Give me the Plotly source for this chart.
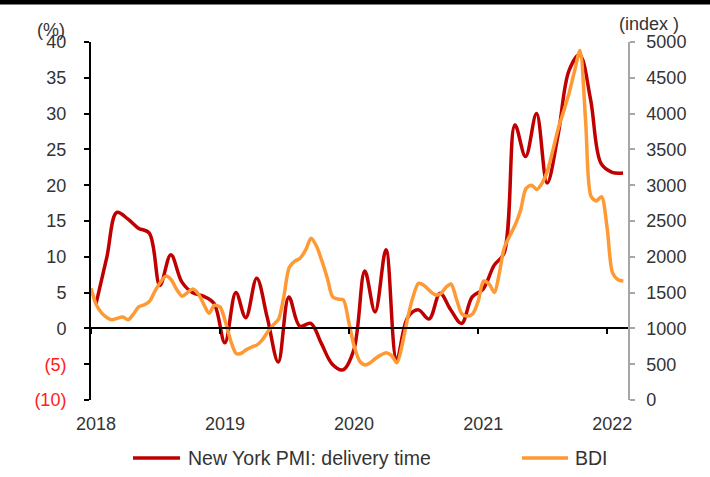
import plotly.graph_objects as go
import pandas as pd

# New York PMI: delivery time (%), monthly (mid-month), Jan 2018 - Feb 2022
pmi_dates = pd.date_range("2018-01-01", periods=50, freq="MS") + pd.Timedelta(days=14)
pmi_values = [
    3.4, 10.0, 16.2, 15.3, 14.0, 13.3, 6.0, 10.3, 6.5, 5.0, 4.5, 3.5,
    -2.0, 5.0, 1.5, 7.0, 1.5, -4.7, 4.4, 0.3, 0.7, -2.1, -5.0, -5.8,
    -3.0, 8.0, 2.3, 11.0, -4.4, 1.5, 2.6, 1.3, 4.9, 2.6, 0.7, 4.4,
    5.5, 8.8, 10.5, 28.4, 24.0, 30.0, 20.3, 27.0, 36.0, 38.2, 32.0, 23.0,
    21.8, 21.7,
]

# Baltic Dry Index (index), twice a month (1st and 16th), Jan 2018 - Feb 2022
month_starts = pd.date_range("2018-01-01", periods=50, freq="MS")
bdi_dates = []
for d in month_starts:
    bdi_dates.append(d)
    bdi_dates.append(d + pd.Timedelta(days=15))
bdi_values = [
    1560, 1330, 1210, 1150, 1120, 1140, 1160, 1120, 1200, 1300,
    1330, 1380, 1520, 1640, 1730, 1680, 1540, 1450, 1500, 1550,
    1480, 1340, 1210, 1320, 1300, 1100, 820, 650, 650, 700,
    740, 770, 840, 950, 1050, 1130, 1450, 1850, 1940, 1980,
    2100, 2260, 2150, 1950, 1700, 1440, 1410, 1400, 1080, 750,
    540, 490, 520, 580, 630, 660, 620, 520, 800, 1160,
    1450, 1630, 1600, 1530, 1470, 1480, 1570, 1620, 1400, 1200,
    1170, 1200, 1380, 1660, 1620, 1500, 1750, 2130, 2300, 2450,
    2650, 2950, 3000, 2940, 3030, 3200, 3500, 3800, 4050, 4300,
    4600, 4880, 3900, 2850, 2780, 2840, 2400, 1780, 1680, 1660,
]

left_ticks = [-10, -5, 0, 5, 10, 15, 20, 25, 30, 35, 40]
left_tick_text = ['<span style="color:#FF2020">(10)</span>',
                  '<span style="color:#FF2020">(5)</span>',
                  "0", "5", "10", "15", "20", "25", "30", "35", "40"]
right_ticks = [0, 500, 1000, 1500, 2000, 2500, 3000, 3500, 4000, 4500, 5000]
year_ticks = ["2018-01-01", "2019-01-01", "2020-01-01", "2021-01-01", "2022-01-01"]
year_labels = ["2018", "2019", "2020", "2021", "2022"]

RED = "#C00000"
ORANGE = "#FF9933"
FONT = "Liberation Sans, Arial, sans-serif"
TEXT = "#333333"
FS = 18

fig = go.Figure()
fig.add_trace(go.Scatter(
    x=pmi_dates, y=pmi_values, name="New York PMI: delivery time",
    mode="lines", line=dict(color=RED, width=3.5, shape="spline", smoothing=1.0),
    xaxis="x", yaxis="y",
))
fig.add_trace(go.Scatter(
    x=bdi_dates, y=bdi_values, name="BDI",
    mode="lines", line=dict(color=ORANGE, width=3.5, shape="spline", smoothing=0.8),
    xaxis="x", yaxis="y2",
))

x_range = ["2018-01-01", "2022-03-01"]

fig.update_layout(
    width=710, height=477,
    margin=dict(l=91, r=82, t=42, b=77),
    paper_bgcolor="white", plot_bgcolor="white",
    font=dict(family=FONT, size=FS, color=TEXT),
    showlegend=False,
    xaxis=dict(
        range=x_range, tickvals=year_ticks, ticktext=year_labels,
        showgrid=False, zeroline=False, showline=False, ticks="",
        ticklabelstandoff=11, ticklabelshift=5,
    ),
    # axis drawn along the zero line, carrying the year tick marks
    xaxis3=dict(
        range=x_range, overlaying="x", anchor="free", position=0.2,
        tickvals=year_ticks, showticklabels=False,
        showgrid=False, zeroline=False, showline=True, linecolor="black",
        linewidth=2, ticks="outside", ticklen=5, tickwidth=2, tickcolor="black",
    ),
    yaxis=dict(
        range=[-10, 40], tickvals=left_ticks, ticktext=left_tick_text,
        showgrid=False, zeroline=False, showline=True, linecolor="black",
        linewidth=2, ticks="outside", ticklen=5, tickwidth=2, tickcolor="black",
        ticklabelstandoff=14,
    ),
    yaxis2=dict(
        range=[0, 5000], tickvals=right_ticks, overlaying="y", side="right",
        showgrid=False, zeroline=False, showline=True, linecolor="#A6A6A6",
        linewidth=1.5, ticks="outside", ticklen=5, tickwidth=1.5, tickcolor="#A6A6A6",
        ticklabelstandoff=8,
    ),
)

# invisible trace to attach the zero-line axis
fig.add_trace(go.Scatter(x=[x_range[0]], y=[0], xaxis="x3", yaxis="y",
                         mode="lines", showlegend=False, hoverinfo="skip",
                         line=dict(width=0)))

fig.add_annotation(text="(%)", xref="paper", yref="paper", x=-0.0745, y=1.0,
                   xanchor="center", yanchor="middle", showarrow=False,
                   font=dict(size=FS, color=TEXT), yshift=12)
fig.add_annotation(text="(index )", xref="paper", yref="paper", x=1.04, y=1.0,
                   xanchor="center", yanchor="middle", showarrow=False,
                   font=dict(size=FS, color=TEXT), yshift=18)

# legend drawn below the plot
legend_items = [("New York PMI: delivery time", RED, 0.0782, 0.1657, 0.1769),
                ("BDI", ORANGE, 0.8026, 0.8883, 0.8976)]
for label, color, lx0, lx1, tx in legend_items:
    fig.add_shape(type="line", xref="paper", yref="paper", x0=lx0, x1=lx1,
                  y0=-0.162, y1=-0.162, line=dict(color=color, width=3.5))
    fig.add_annotation(text=label, xref="paper", yref="paper", x=tx, y=-0.162,
                       xanchor="left", yanchor="middle", showarrow=False,
                       font=dict(size=19.5, color=TEXT))

# black band across the top of the page
fig.add_shape(type="rect", xref="paper", yref="paper", x0=-0.2, x1=1.2,
              y0=1.105, y1=1.14, fillcolor="black", line=dict(width=0), layer="above")

fig.write_html("out.html")
